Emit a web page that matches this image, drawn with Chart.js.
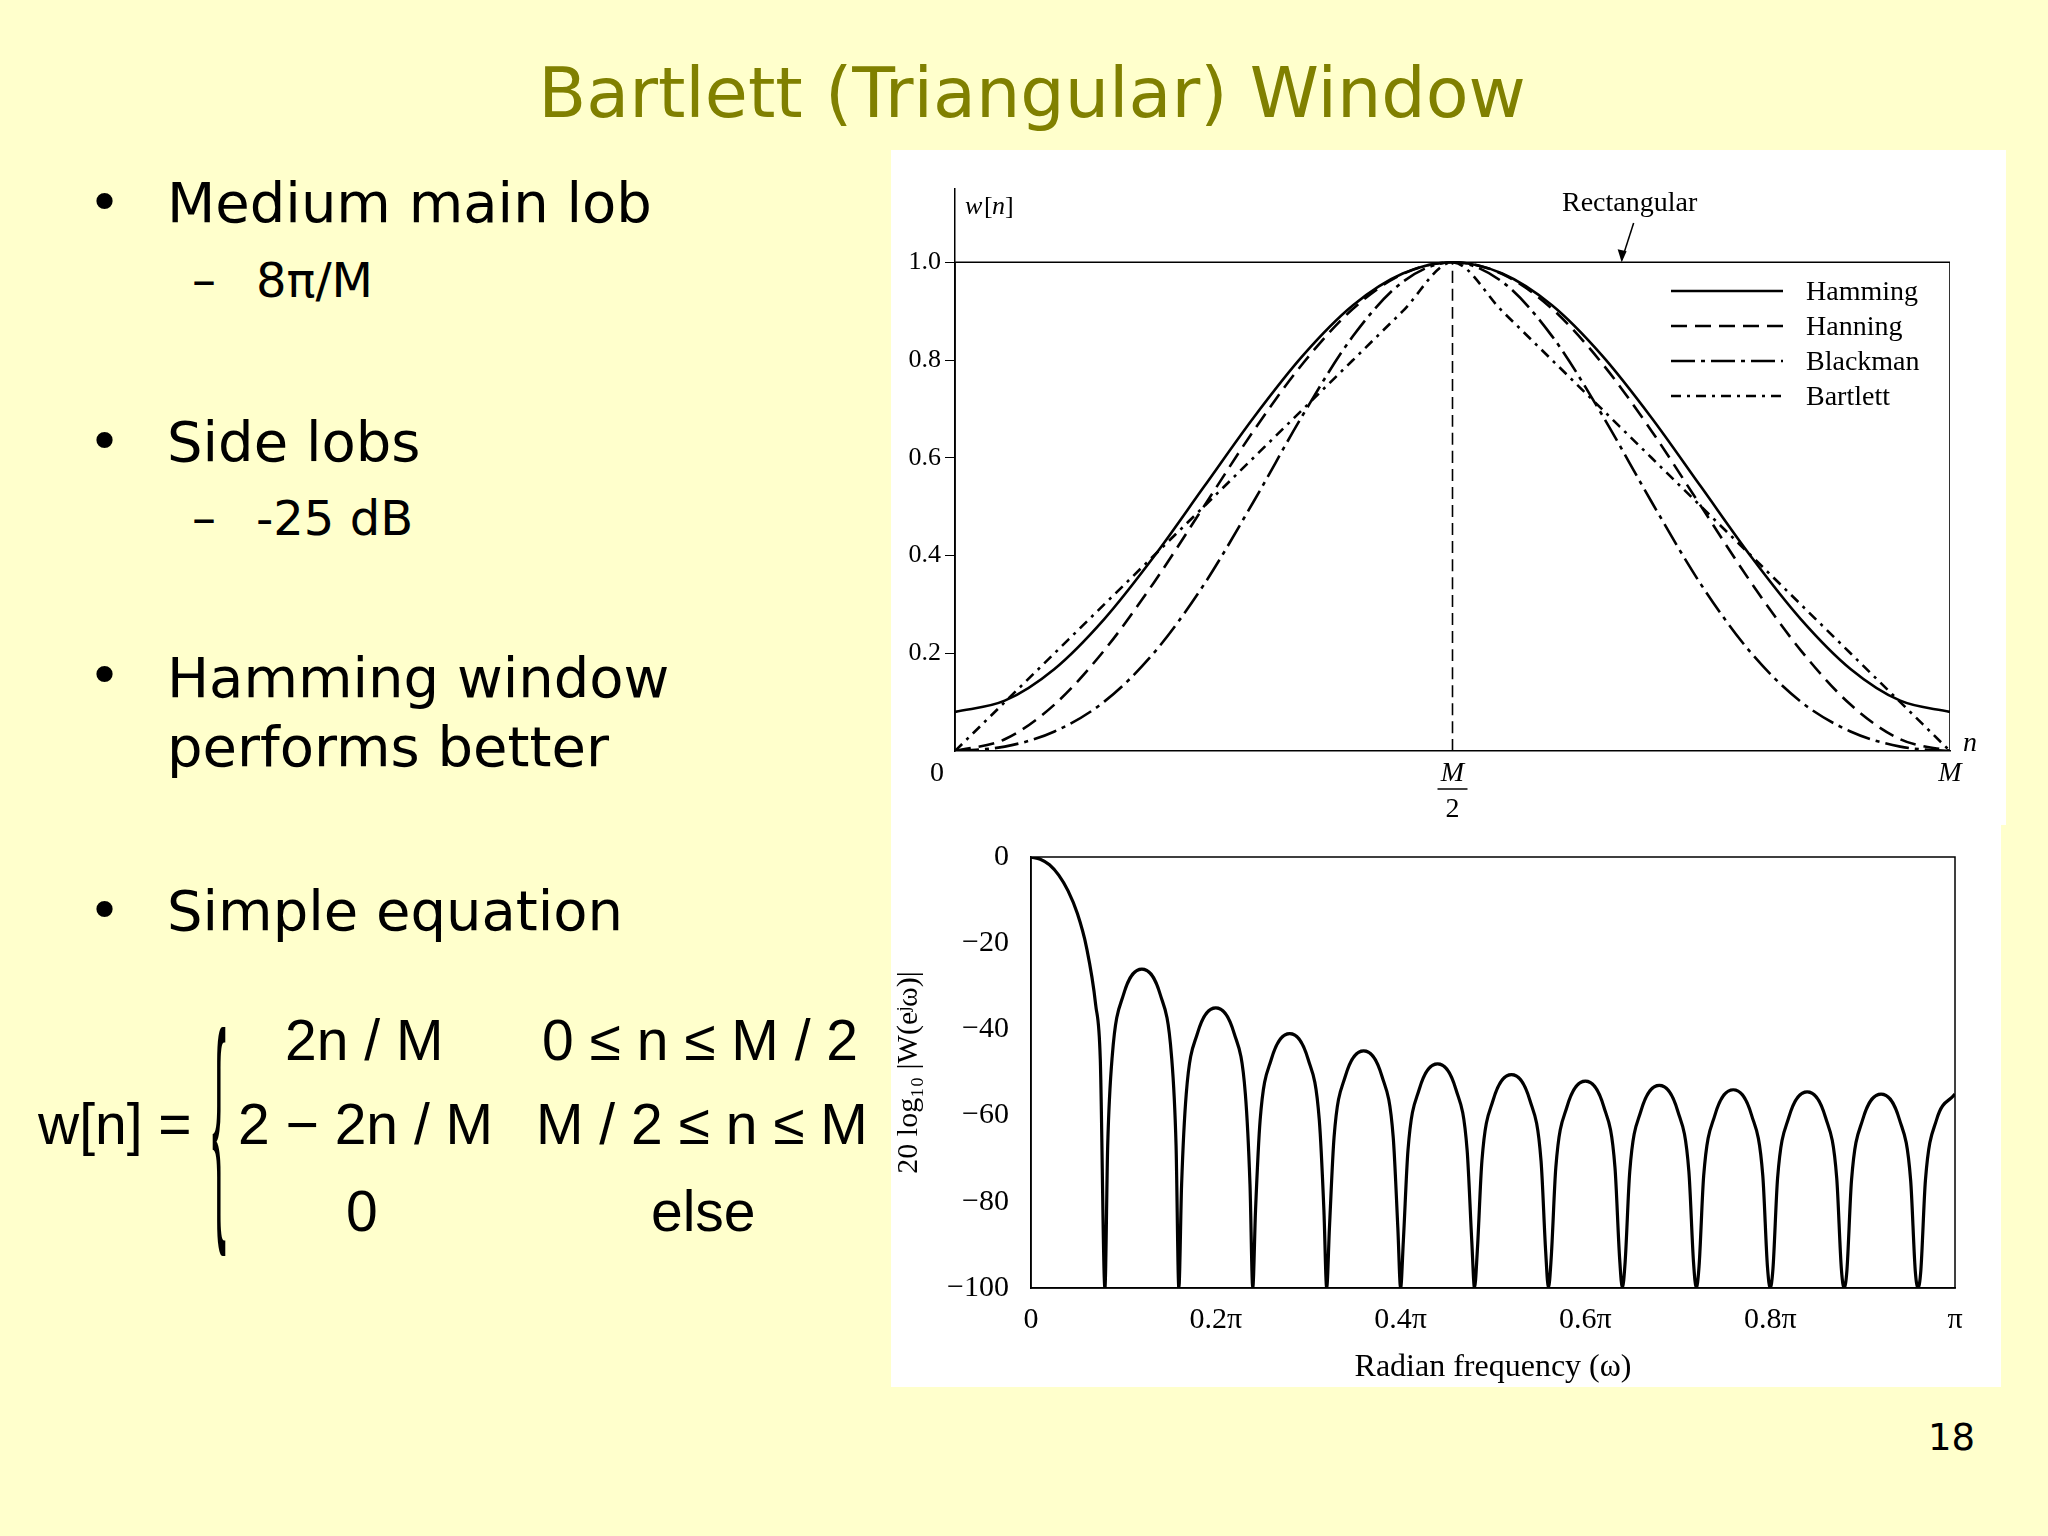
<!DOCTYPE html>
<html><head><meta charset="utf-8">
<script src="https://cdn.jsdelivr.net/npm/chart.js@4.4.1/dist/chart.umd.min.js"></script>
<style>
body{margin:0;width:2048px;height:1536px;background:#ffffcc;position:relative;overflow:hidden;font-family:"DejaVu Sans",Verdana,sans-serif;}
.t{position:absolute;white-space:nowrap;color:#000;}
.box{position:absolute;background:#fff;}
.eq{position:absolute;white-space:nowrap;font-family:"Liberation Sans",Arial,sans-serif;font-size:57px;line-height:1;}
</style></head>
<body>
<div class="t" style="left:0;width:2064px;text-align:center;top:52px;font-size:70px;color:#808000;">Bartlett (Triangular) Window</div>

<div class="t" style="left:88px;top:170px;font-size:56px;">•</div><div class="t" style="left:167px;top:170px;font-size:56px;">Medium main lob</div>
<div class="t" style="left:192px;top:252px;font-size:48px;">–</div><div class="t" style="left:256px;top:252px;font-size:48px;">8π/M</div>
<div class="t" style="left:88px;top:409px;font-size:56px;">•</div><div class="t" style="left:167px;top:409px;font-size:56px;">Side lobs</div>
<div class="t" style="left:192px;top:490px;font-size:48px;">–</div><div class="t" style="left:256px;top:490px;font-size:48px;">-25 dB</div>
<div class="t" style="left:88px;top:643px;font-size:56px;">•</div><div class="t" style="left:167px;top:643px;font-size:56px;line-height:69px;">Hamming window<br>performs better</div>
<div class="t" style="left:88px;top:878px;font-size:56px;">•</div><div class="t" style="left:167px;top:878px;font-size:56px;">Simple equation</div>

<div class="eq" style="left:38px;top:1096px;">w[n] =</div>
<div class="eq" style="left:212px;top:1000px;font-size:60px;transform:scaleY(4.1) scaleX(0.7);transform-origin:top left;font-weight:100;">{</div>
<div class="eq" style="left:285px;top:1012px;">2n / M</div>
<div class="eq" style="left:542px;top:1012px;">0 ≤ n ≤ M / 2</div>
<div class="eq" style="left:238px;top:1096px;">2 − 2n / M</div>
<div class="eq" style="left:536px;top:1096px;">M / 2 ≤ n ≤ M</div>
<div class="eq" style="left:346px;top:1183px;">0</div>
<div class="eq" style="left:651px;top:1183px;">else</div>

<div class="t" style="left:1928px;top:1416px;font-size:37px;">18</div>

<div class="box" style="left:891px;top:150px;width:1115px;height:675px;"><canvas id="top" width="1115" height="675"></canvas></div>
<div class="box" style="left:891px;top:825px;width:1110px;height:562px;"><canvas id="bot" width="1110" height="562"></canvas></div>

<script>
const N_POS = [0,0.05,0.1,0.15,0.2,0.25,0.3,0.35,0.4,0.45,0.5,0.55,0.6,0.65,0.7,0.75,0.8,0.85,0.9,0.95,1];
const HAMMING = [0.08,0.103,0.168,0.27,0.398,0.54,0.682,0.81,0.912,0.977,1,0.977,0.912,0.81,0.682,0.54,0.398,0.27,0.168,0.103,0.08];
const HANNING = [0,0.024,0.095,0.206,0.345,0.5,0.655,0.794,0.905,0.976,1,0.976,0.905,0.794,0.655,0.5,0.345,0.206,0.095,0.024,0];
const BLACKMAN = [0,0.009,0.04,0.101,0.201,0.34,0.51,0.689,0.849,0.96,1,0.96,0.849,0.689,0.51,0.34,0.201,0.101,0.04,0.009,0];
const BARTLETT = [0,0.1,0.2,0.3,0.4,0.5,0.6,0.7,0.8,0.9,1,0.9,0.8,0.7,0.6,0.5,0.4,0.3,0.2,0.1,0];
const RECT_X = [0,0,1,1];
const RECT_Y = [0,1,1,0];
const WIN_NAMES = ["Hamming","Hanning","Blackman","Bartlett"];

const FREQ = [0,0.01,0.02,0.03,0.04,0.05,0.06,0.07,0.075,0.08,
 0.083,0.088,0.1,0.12,0.14,0.152,0.157,0.16,
 0.163,0.168,0.18,0.2,0.22,0.232,0.237,0.24,
 0.243,0.248,0.26,0.28,0.3,0.312,0.317,0.32,
 0.323,0.328,0.34,0.36,0.38,0.392,0.397,0.40,
 0.403,0.408,0.42,0.44,0.46,0.472,0.477,0.48,
 0.483,0.488,0.5,0.52,0.54,0.552,0.557,0.56,
 0.563,0.568,0.58,0.6,0.62,0.632,0.637,0.64,
 0.643,0.648,0.66,0.68,0.7,0.712,0.717,0.72,
 0.723,0.728,0.74,0.76,0.78,0.792,0.797,0.80,
 0.803,0.808,0.82,0.84,0.86,0.872,0.877,0.88,
 0.883,0.888,0.9,0.92,0.94,0.952,0.957,0.96,
 0.963,0.968,0.98,1.0];
const MAG_DB = [0,-0.5,-1.8,-4.2,-7.8,-13,-20.9,-34.3,-47,-100,
 -67,-46,-32,-26,-32,-46,-67,-100,
 -76,-55,-41,-35,-41,-55,-76,-100,
 -82,-61,-47,-41,-47,-61,-82,-100,
 -86,-65,-51,-45,-51,-65,-86,-100,
 -89,-68,-54,-48,-54,-68,-89,-100,
 -91.5,-70.5,-56.5,-50.5,-56.5,-70.5,-91.5,-100,
 -93,-72,-58,-52,-58,-72,-93,-100,
 -94,-73,-59,-53,-59,-73,-94,-100,
 -95,-74,-60,-54,-60,-74,-95,-100,
 -95.5,-74.5,-60.5,-54.5,-60.5,-74.5,-95.5,-100,
 -96,-75,-61,-55,-61,-75,-96,-100,
 -96,-75,-61,-55];
const FREQ_TICKS = {0:"0",0.2:"0.2π",0.4:"0.4π",0.6:"0.6π",0.8:"0.8π",1:"π"};

const SERIF = '"Liberation Serif","DejaVu Serif",serif';
const DASHES = [[], [16,8], [24,6,4,6], [10,6,3,6]];
const pts = (xs, ys) => xs.map((x, i) => ({x, y: ys[i]}));

const topExtras = {
  id: "topExtras",
  afterDraw(c) {
    const {ctx, chartArea: a, scales: {x, y}} = c;
    ctx.save();
    ctx.fillStyle = "#000"; ctx.strokeStyle = "#000";
    ctx.font = "italic 26px " + SERIF;
    ctx.textAlign = "left";
    ctx.fillText("w", a.left + 10, a.top + 25);
    ctx.font = "26px " + SERIF; ctx.fillText("[", a.left + 29, a.top + 25);
    ctx.font = "italic 26px " + SERIF; ctx.fillText("n", a.left + 37, a.top + 25);
    ctx.font = "26px " + SERIF; ctx.fillText("]", a.left + 50, a.top + 25);
    // rectangular annotation
    ctx.font = "28px " + SERIF;
    ctx.fillText("Rectangular", x.getPixelForValue(0.6) + 10, a.top + 22);
    ctx.lineWidth = 1.5;
    const tx = x.getPixelForValue(0.67), ty = y.getPixelForValue(1);
    ctx.beginPath(); ctx.moveTo(tx + 12, a.top + 34); ctx.lineTo(tx, ty - 2); ctx.stroke();
    ctx.beginPath(); ctx.moveTo(tx, ty); ctx.lineTo(tx - 4, ty - 13); ctx.lineTo(tx + 5, ty - 11); ctx.fill();
    // x labels
    const by = y.getPixelForValue(0);
    ctx.font = "28px " + SERIF; ctx.textAlign = "center";
    ctx.fillText("0", a.left - 18, by + 30);
    const mx = x.getPixelForValue(0.5);
    ctx.font = "italic 28px " + SERIF;
    ctx.fillText("M", mx, by + 30);
    ctx.lineWidth = 1.5; ctx.beginPath(); ctx.moveTo(mx - 15, by + 38); ctx.lineTo(mx + 15, by + 38); ctx.stroke();
    ctx.font = "28px " + SERIF; ctx.fillText("2", mx, by + 66);
    ctx.font = "italic 28px " + SERIF;
    ctx.fillText("M", x.getPixelForValue(1), by + 30);
    ctx.fillText("n", x.getPixelForValue(1) + 20, by - 0);
    // legend
    ctx.font = "28px " + SERIF; ctx.textAlign = "left";
    WIN_NAMES.forEach((nm, i) => {
      const ly = a.top + 102 + i * 35;
      ctx.setLineDash(DASHES[i]); ctx.lineWidth = 2.5;
      ctx.beginPath(); ctx.moveTo(a.right - 279, ly); ctx.lineTo(a.right - 167, ly); ctx.stroke();
      ctx.setLineDash([]);
      ctx.fillText(nm, a.right - 144, ly + 9);
    });
    ctx.restore();
  }
};

const frame = {
  id: "frame",
  afterDraw(c) {
    const {ctx, chartArea: a} = c;
    ctx.save(); ctx.strokeStyle = "#000"; ctx.lineWidth = 1.5;
    ctx.strokeRect(a.left, a.top, a.right - a.left, a.bottom - a.top);
    ctx.restore();
  }
};

const lineDs = (data, dash, w) => ({data, borderColor: "#000", borderWidth: w, borderDash: dash,
  pointRadius: 0, fill: false, cubicInterpolationMode: "monotone"});

new Chart(document.getElementById("top"), {
  type: "line",
  data: { datasets: [
    lineDs(pts(N_POS, HAMMING), DASHES[0], 2.6),
    lineDs(pts(N_POS, HANNING), DASHES[1], 2.6),
    lineDs(pts(N_POS, BLACKMAN), DASHES[2], 2.6),
    lineDs(pts(N_POS, BARTLETT), DASHES[3], 2.6),
    lineDs(pts(RECT_X, RECT_Y), [], 1.6),
    lineDs(pts([0.5, 0.5], [0, 1]), [12, 6], 1.6)
  ]},
  options: {
    responsive: false, animation: false,
    layout: { padding: { top: 39, right: 56, left: 0, bottom: 0 } },
    plugins: { legend: { display: false }, tooltip: { enabled: false } },
    scales: {
      x: { type: "linear", min: 0, max: 1, grid: { display: false }, border: { color: "#000", width: 1.5 },
           ticks: { display: false }, afterFit: s => { s.height = 74; } },
      y: { min: 0, max: 1.15, grid: { drawOnChartArea: false, color: "#000", tickLength: 10 },
           border: { color: "#000", width: 1.5 },
           afterBuildTicks: s => { s.ticks = [0.2, 0.4, 0.6, 0.8, 1.0].map(v => ({value: v})); },
           ticks: { color: "#000", font: { family: SERIF, size: 26 }, callback: v => v.toFixed(1), padding: 4 },
           afterFit: s => { s.width = 64; } }
    }
  },
  plugins: [topExtras]
});

new Chart(document.getElementById("bot"), {
  type: "line",
  data: { datasets: [lineDs(pts(FREQ, MAG_DB), [], 3.2)] },
  options: {
    responsive: false, animation: false,
    layout: { padding: { top: 6, right: 46, left: 0, bottom: 0 } },
    plugins: { legend: { display: false }, tooltip: { enabled: false } },
    scales: {
      x: { type: "linear", min: 0, max: 1, grid: { display: false }, border: { color: "#000", width: 1.5 },
           ticks: { stepSize: 0.2, color: "#000", font: { family: SERIF, size: 30 }, padding: 6,
                    callback: v => FREQ_TICKS[Math.round(v * 10) / 10] },
           title: { display: true, text: "Radian frequency (ω)", color: "#000", font: { family: SERIF, size: 32 }, padding: 0 },
           afterFit: s => { s.height = 99; } },
      y: { min: -100, max: 0, grid: { display: false }, border: { color: "#000", width: 1.5 },
           ticks: { stepSize: 20, color: "#000", font: { family: SERIF, size: 30 }, padding: 14,
                    callback: v => v < 0 ? "−" + Math.abs(v) : "0" },
           title: { display: true, text: "20 log₁₀ |W(eʲω)|", color: "#000", font: { family: SERIF, size: 30 }, padding: 0 },
           afterFit: s => { s.width = 140; } }
    }
  },
  plugins: [frame]
});
</script>
</body></html>
